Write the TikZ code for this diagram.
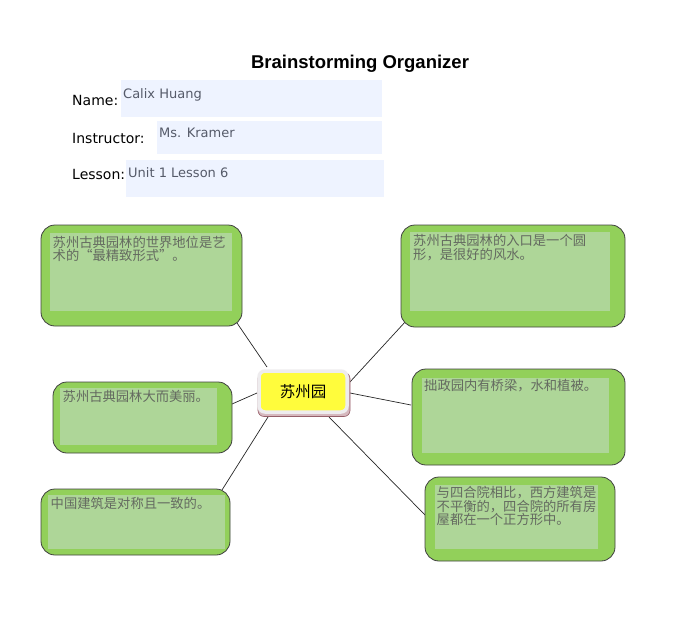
\documentclass[tikz,border=0pt]{standalone}
\usepackage{fontspec}
\setmainfont{DejaVu Sans}
\newfontfamily\cjk{Noto Sans CJK SC}
\newfontfamily\titlefont{Liberation Sans}
\usetikzlibrary{calc,backgrounds}
\definecolor{boxgreen}{RGB}{146,208,90}
\definecolor{innergreen}{RGB}{174,214,152}
\definecolor{fieldblue}{RGB}{238,243,255}
\definecolor{fieldtext}{RGB}{85,90,105}
\definecolor{cjktext}{RGB}{100,106,96}
\definecolor{cyellow}{RGB}{255,252,60}
\definecolor{cborder}{RGB}{238,236,238}
\definecolor{cshadow}{RGB}{214,184,190}
\definecolor{cshadowline}{RGB}{150,95,105}
\tikzset{
  outerbox/.style={draw=black!75, line width=0.8pt, fill=boxgreen, rounded corners=14pt, inner sep=0pt, outer sep=0pt},
  innerbox/.style={fill=innergreen, inner sep=0pt, outer sep=0pt},
  boxtext/.style={anchor=north west, inner sep=1pt, align=left, text=cjktext, font=\cjk\fontsize{13.3}{13.5}\selectfont},
  field/.style={fill=fieldblue, inner sep=0pt, outer sep=0pt},
  fieldlabel/.style={anchor=base west, inner sep=0pt, font=\fontsize{14}{14}\selectfont, text=black},
  fieldvalue/.style={anchor=base west, inner sep=0pt, font=\fontsize{13}{13}\selectfont, text=fieldtext},
  link/.style={draw=black!85, line width=0.7pt},
  centerbox/.style={draw=cborder, line width=3.5pt, fill=cyellow, rounded corners=6pt, inner sep=0pt, outer sep=0pt, minimum width=88pt, minimum height=41pt, font=\cjk\fontsize{15.5}{15.5}\selectfont},
}
\begin{document}
\begin{tikzpicture}[x=1pt,y=-1pt]
\useasboundingbox (0,0) rectangle (685,616);

% title
\node[anchor=base, inner sep=0pt, font=\titlefont\bfseries\fontsize{18.5}{18.5}\selectfont] (title) at (360,68.5) {Brainstorming Organizer};

% header fields
\node[field, minimum width=261pt, minimum height=37pt] (fname) at (251.5,98.5) {};
\node[field, minimum width=225pt, minimum height=33pt] (finstr) at (269.5,137.5) {};
\node[field, minimum width=258pt, minimum height=37pt] (flesson) at (255,178.5) {};
\node[fieldlabel] (lname) at (72,105) {Name:};
\node[fieldlabel] (linstr) at (72,143) {Instructor:};
\node[fieldlabel] (llesson) at (72,179.5) {Lesson:};
\node[fieldvalue] (vname) at (123,98) {Calix Huang};
\node[fieldvalue] (vinstr) at (159,137) {Ms. Kramer};
\node[fieldvalue] (vlesson) at (128,177) {Unit 1 Lesson 6};

% boxes
\node[outerbox, minimum width=201pt, minimum height=101pt] (tl) at (141.5,275.5) {};
\node[innerbox, minimum width=182pt, minimum height=78pt] (tli) at (141,272) {};
\node[boxtext] (tlt) at (51.5,235) {苏州古典园林的世界地位是艺\\术的“最精致形式”。};

\node[outerbox, minimum width=224pt, minimum height=102pt] (tr) at (513,276) {};
\node[innerbox, minimum width=200pt, minimum height=79pt] (tri) at (510,271.5) {};
\node[boxtext] (trt) at (412,233.5) {苏州古典园林的入口是一个圆\\形，是很好的风水。};

\node[outerbox, minimum width=179pt, minimum height=71pt] (ml) at (142.5,417.5) {};
\node[innerbox, minimum width=157pt, minimum height=57pt] (mli) at (138.5,416.5) {};
\node[boxtext] (mlt) at (61.5,389) {苏州古典园林大而美丽。};

\node[outerbox, minimum width=213pt, minimum height=96pt] (mr) at (518.5,417) {};
\node[innerbox, minimum width=187pt, minimum height=75pt] (mri) at (515.5,415.5) {};
\node[boxtext] (mrt) at (423,378.5) {拙政园内有桥梁，水和植被。};

\node[outerbox, minimum width=189pt, minimum height=66pt] (bl) at (135.5,522) {};
\node[innerbox, minimum width=177pt, minimum height=54pt] (bli) at (136.5,522) {};
\node[boxtext] (blt) at (49.5,496) {中国建筑是对称且一致的。};

\node[outerbox, minimum width=190pt, minimum height=84pt] (br) at (520,519) {};
\node[innerbox, minimum width=163pt, minimum height=64pt] (bri) at (516.5,517) {};
\node[boxtext] (brt) at (435.5,485.5) {与四合院相比，西方建筑是\\不平衡的，四合院的所有房\\屋都在一个正方形中。};

% center
\node[draw=cshadowline, line width=0.6pt, fill=cshadow, rounded corners=6pt, minimum width=92pt, minimum height=44pt, inner sep=0pt, outer sep=0pt] (cs) at (304,394.5) {};
\node[centerbox] (c) at (303,391.5) {苏州园};

% connectors
\begin{scope}[on background layer]
\draw[link] ($(tl.south east)+(-5,-3)$) -- ($(c.north west)+(8,-4)$);
\draw[link] ($(tr.south west)+(5,-6)$) -- ($(c.east)+(2,-8.5)$);
\draw[link] ($(ml.east)+(0,-13.5)$) -- ($(c.west)+(-2,1.5)$);
\draw[link] ($(c.east)+(3,1.5)$) -- ($(mr.west)+(-1,-12)$);
\draw[link] ($(bl.north east)+(-8,1)$) -- ($(c.south west)+(9,5)$);
\draw[link] ($(c.south east)+(-18,5)$) -- ($(br.west)+(0,-4)$);
\end{scope}
\end{tikzpicture}
\end{document}
